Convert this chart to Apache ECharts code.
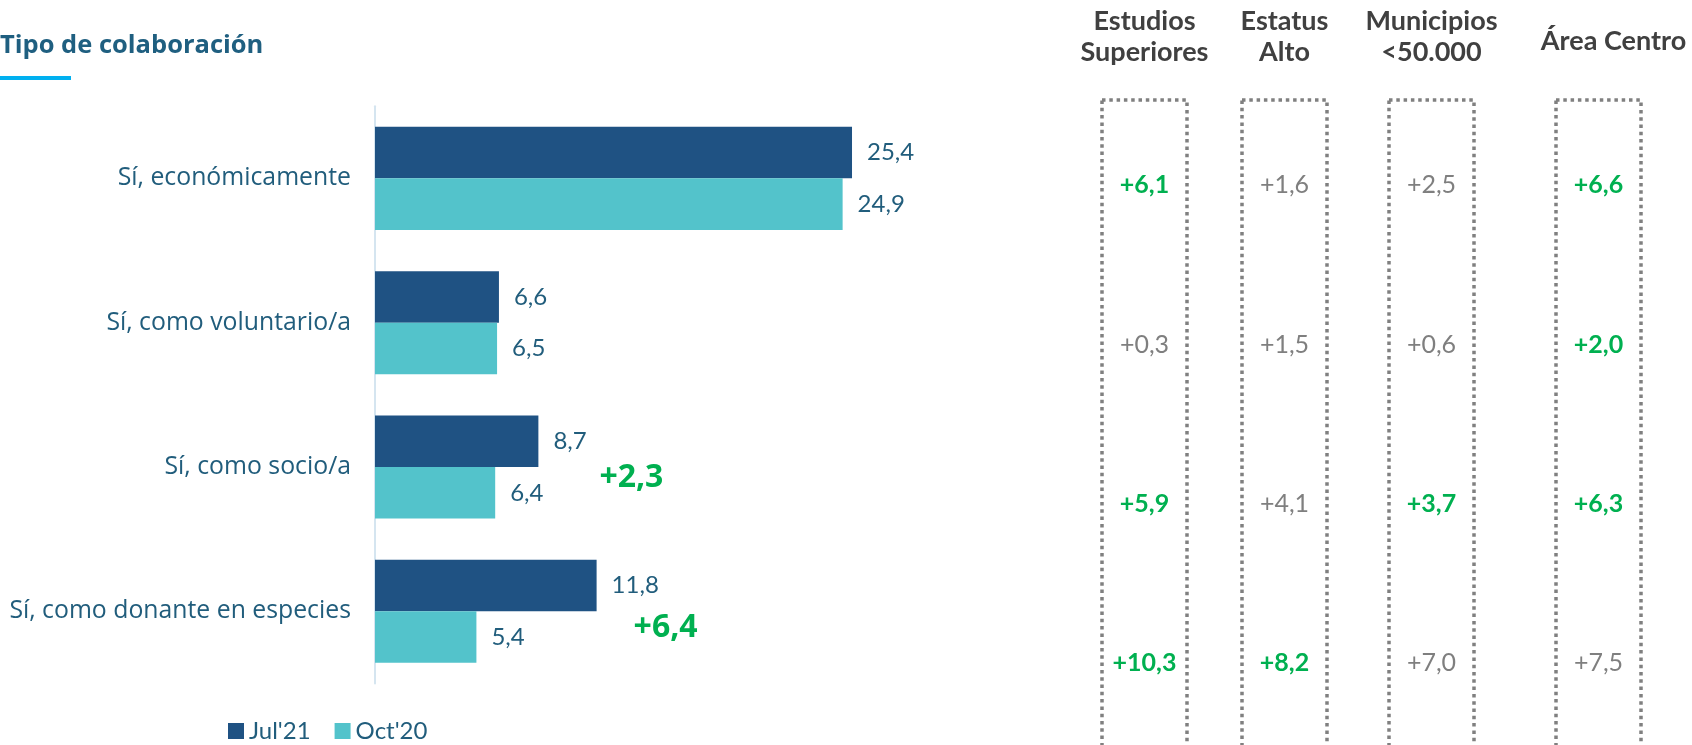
<!DOCTYPE html>
<html>
<head>
<meta charset="utf-8">
<script src="https://cdn.jsdelivr.net/npm/echarts@6/dist/echarts.min.js"></script>
<style>
  html, body { margin: 0; padding: 0; background: #ffffff; }
  #chart { width: 1692px; height: 745px; }
</style>
</head>
<body>
<div id="chart"></div>
<script>
// ---------- DATA ----------
const chartTitle = 'Tipo de colaboración';
const categories = ['Sí, económicamente', 'Sí, como voluntario/a', 'Sí, como socio/a', 'Sí, como donante en especies'];
const seriesNames = ["Jul'21", "Oct'20"];
const jul21 = [25.4, 6.6, 8.7, 11.8];
const oct20 = [24.9, 6.5, 6.4, 5.4];
const diffLabels = ['', '', '+2,3', '+6,4'];

const groups = ['Estudios\nSuperiores', 'Estatus\nAlto', 'Municipios\n<50.000', 'Área Centro'];
const groupDiffs = [
  [6.1, 0.3, 5.9, 10.3],
  [1.6, 1.5, 4.1, 8.2],
  [2.5, 0.6, 3.7, 7.0],
  [6.6, 2.0, 6.3, 7.5]
];
const groupHighlight = [
  [true, false, true, true],
  [false, false, false, true],
  [false, false, true, false],
  [true, true, true, false]
];

// ---------- LAYOUT / STYLE ----------
const FONT = 'Lato, "Open Sans", sans-serif';
const FONT_W = '"Open Sans", Lato, sans-serif';
const C_JUL = '#1f5283';
const C_OCT = '#53c3cb';
const C_TEXT = '#215d7c';
const C_GREEN = '#00b050';
const C_GRAY = '#7f7f7f';
const C_HEAD = '#404040';
const colLeft = [1102, 1242, 1389, 1556];
const colWidth = 85;
const headPad = [[0, 0, 0, 0], [0, 0, 0, 0], [0, 0, 0, 0], [0, 0, 11, 30]];
const diffDx = [0, 0, 61, 37];
const diffDy = [0, 0, 11, 17];

const fmt = v => v.toFixed(1).replace('.', ',');

const grids = [{ left: 375, top: 106.2, width: 563.4, height: 577.3 }];
const xAxes = [{
  gridIndex: 0, type: 'value', min: 0, max: 30,
  show: false, splitLine: { show: false }
}];
const yAxes = [{
  gridIndex: 0, type: 'category', inverse: true, data: categories,
  axisLine: { show: true, lineStyle: { color: '#d5e5f0', width: 2 } },
  axisTick: { show: false },
  axisLabel: { fontSize: 24.8, color: C_TEXT, fontFamily: FONT_W, margin: 24 }
}];

const series = [
  {
    name: seriesNames[0], type: 'bar', xAxisIndex: 0, yAxisIndex: 0,
    data: jul21, barGap: '0%', barCategoryGap: '28.6%',
    itemStyle: { color: C_JUL },
    label: { show: true, position: 'right', distance: 15, formatter: p => fmt(p.value),
      fontSize: 24, color: C_TEXT, fontFamily: FONT }
  },
  {
    name: seriesNames[1], type: 'bar', xAxisIndex: 0, yAxisIndex: 0,
    data: oct20, barGap: '0%', barCategoryGap: '28.6%',
    itemStyle: { color: C_OCT },
    label: { show: true, position: 'right', distance: 15, formatter: p => fmt(p.value),
      fontSize: 24, color: C_TEXT, fontFamily: FONT }
  },
  {
    type: 'custom', xAxisIndex: 0, yAxisIndex: 0, silent: true,
    data: jul21.map((v, i) => [v, i, diffLabels[i]]),
    renderItem: (params, api) => {
      const i = params.dataIndex;
      if (!diffLabels[i]) return null;
      const p = api.coord([api.value(0), i]);
      return {
        type: 'text',
        style: {
          x: p[0] + diffDx[i], y: p[1] + diffDy[i], text: diffLabels[i],
          fill: C_GREEN, font: 'bold 32px ' + FONT_W, align: 'left', verticalAlign: 'middle'
        }
      };
    }
  }
];

groups.forEach((g, k) => {
  const gi = k + 1;
  grids.push({ left: colLeft[k], width: colWidth, top: 105.3, height: 637.7 });
  xAxes.push({
    gridIndex: gi, type: 'category', position: 'top', data: [g],
    axisLine: { show: false }, axisTick: { show: false }, splitLine: { show: false },
    axisLabel: { interval: 0, fontSize: 27, fontWeight: 'bold', color: C_HEAD, fontFamily: FONT,
      lineHeight: 31, margin: 38, padding: headPad[k] }
  });
  yAxes.push({
    gridIndex: gi, type: 'category', inverse: true, show: false,
    data: categories
  });
  // dotted box
  series.push({
    type: 'custom', xAxisIndex: gi, yAxisIndex: gi, silent: true,
    data: [[0, 0]],
    renderItem: (params, api) => {
      const cs = params.coordSys;
      return {
        type: 'rect',
        shape: { x: cs.x, y: cs.y - 5.3, width: cs.width, height: cs.height + 4 + 5.3 },
        style: { fill: 'none', stroke: '#808080', lineWidth: 3.5, lineDash: [3.5, 3.8] }
      };
    }
  });
  // values
  series.push({
    type: 'custom', xAxisIndex: gi, yAxisIndex: gi, silent: true,
    data: groupDiffs[k].map((v, r) => [0, r, v]),
    renderItem: (params, api) => {
      const r = params.dataIndex;
      const p = api.coord([0, r]);
      const hi = groupHighlight[k][r];
      return {
        type: 'text',
        style: {
          x: p[0], y: p[1], text: '+' + fmt(groupDiffs[k][r]),
          fill: hi ? C_GREEN : C_GRAY,
          font: (hi ? 'bold ' : '') + '25px ' + FONT,
          align: 'center', verticalAlign: 'middle'
        }
      };
    }
  });
});

const chart = echarts.init(document.getElementById('chart'), null, { renderer: 'canvas' });
chart.setOption({
  animation: false,
  backgroundColor: '#ffffff',
  textStyle: { fontFamily: FONT },
  grid: grids,
  xAxis: xAxes,
  yAxis: yAxes,
  legend: {
    data: seriesNames, left: 228, top: 719, icon: 'rect',
    itemWidth: 16, itemHeight: 16, itemGap: 24, padding: 0,
    textStyle: { fontSize: 24, color: C_TEXT, fontFamily: FONT }
  },
  graphic: [
    { type: 'text', x: 0, y: 46, style: { text: chartTitle, fill: '#1f5f80', font: 'bold 25.5px ' + FONT_W, verticalAlign: 'middle' } },
    { type: 'rect', left: 0, top: 76, shape: { width: 71, height: 4 }, style: { fill: '#00b0f0' } }
  ],
  series: series
});
</script>
</body>
</html>
